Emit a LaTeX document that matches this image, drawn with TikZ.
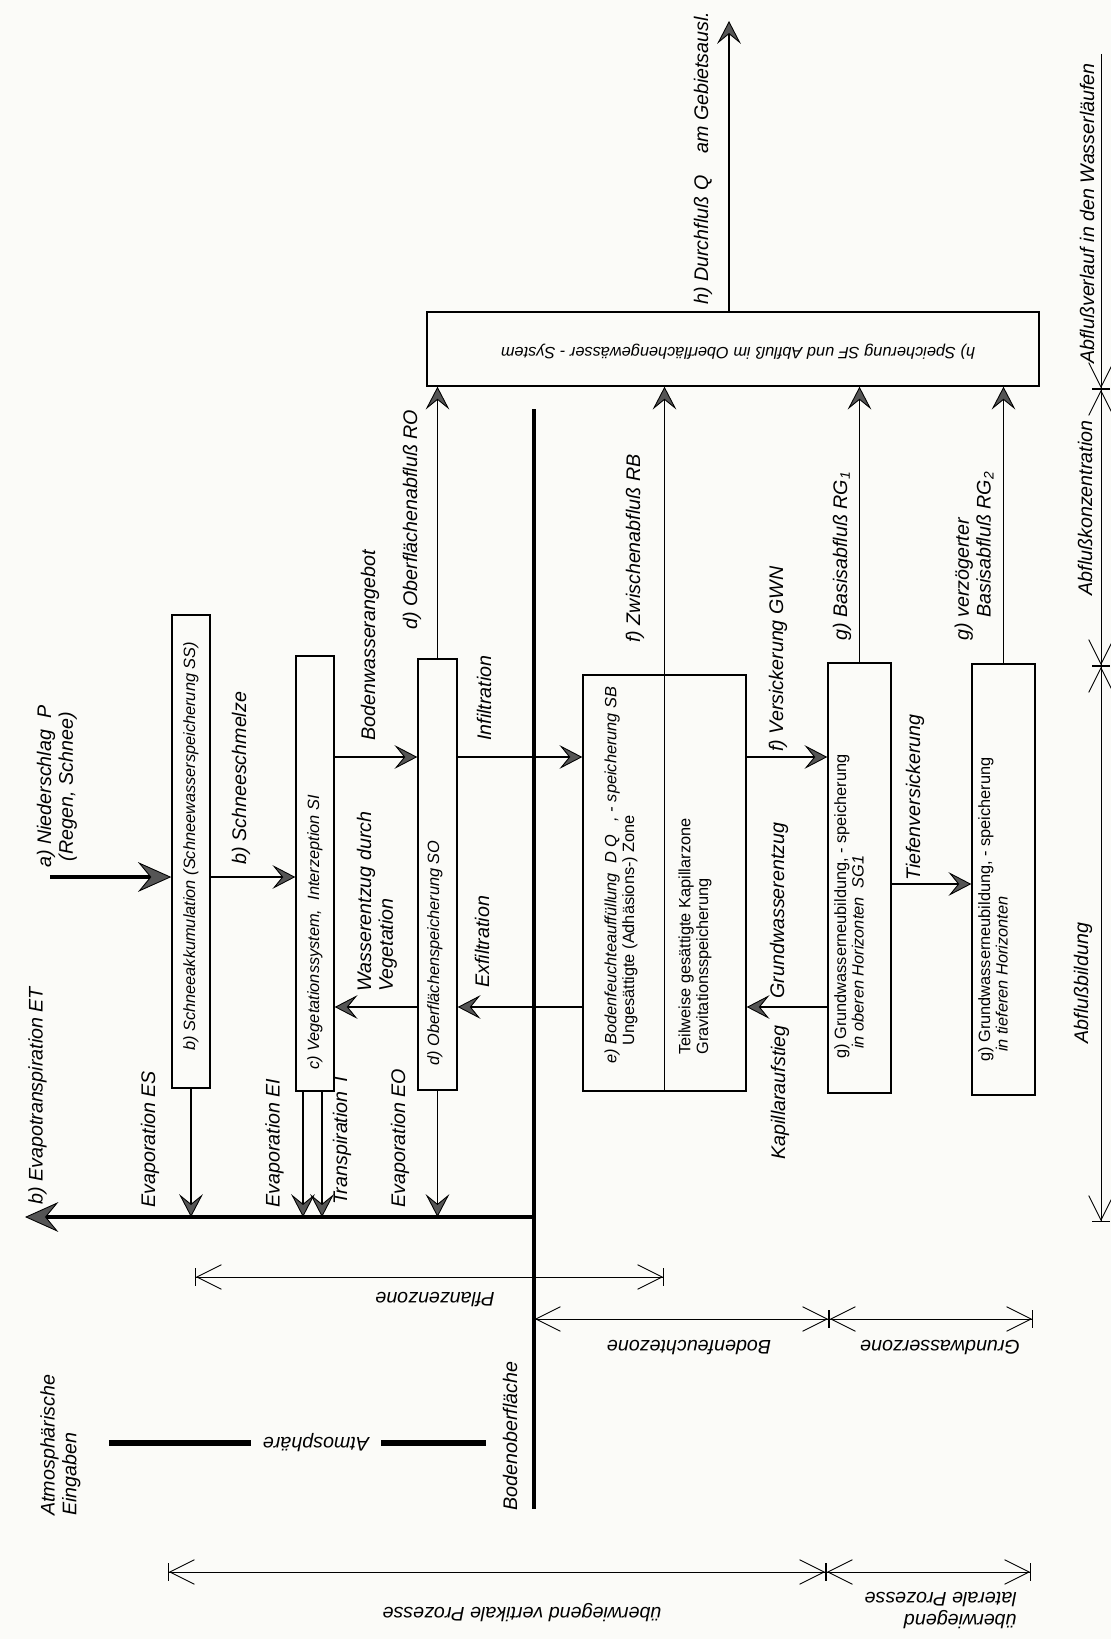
\documentclass[tikz,border=0pt]{standalone}
\usepackage{fontspec}
\setmainfont{Liberation Sans}
\usetikzlibrary{arrows.meta}
\definecolor{paper}{RGB}{251,251,248}
\definecolor{tipgray}{RGB}{85,85,85}
\newcommand\lblfont{\itshape\fontsize{11.2}{12.4}\selectfont}
\newcommand\boxfont{\itshape\fontsize{9.3}{10}\selectfont}
\def\pxu{0.02cm}
\tikzset{
  box/.style={draw, line width=0.8pt, inner sep=0pt},
  lbl/.style={inner sep=0pt, font=\lblfont},
  boxlbl/.style={inner sep=0pt, font=\boxfont},
  upword/.style={rotate=90, anchor=west},
  upsidedown/.style={rotate=180},
  flow/.style={line width=0.6pt, -{Stealth[length=13pt,width=13.5pt,inset=5.5pt,fill=tipgray,line width=0.5pt]}},
  bigflow/.style={line width=1.8pt, -{Stealth[length=19pt,width=17pt,inset=7pt,fill=tipgray,line width=0.5pt]}},
  ground/.style={line width=1.9pt},
  atmo/.style={line width=3pt},
  zone/.style={line width=0.5pt, {Bar[width=10pt]Straight Barb[length=14pt,width=14pt]}-{Straight Barb[length=14pt,width=14pt]Bar[width=10pt]}},
  zoneend/.style={line width=0.5pt, -{Straight Barb[length=14pt,width=14pt]Bar[width=10pt]}},
}
\begin{document}
\begin{tikzpicture}[x=\pxu, y=-\pxu]%
\useasboundingbox (0,0) rectangle (1111,1639);%
\fill[paper] (0,0) rectangle (1111,1639);%
%
\def\levP{877}%
\def\levIn{757}%
\def\levEx{1007}%
\def\levTief{884}%
\def\levET{1217}%
\coordinate (lvlP) at (0,\levP);%
\coordinate (lvlIn) at (0,\levIn);%
\coordinate (lvlEx) at (0,\levEx);%
\coordinate (lvlTief) at (0,\levTief);%
\coordinate (lvlET) at (0,\levET);%
%
% speicher
\node[box, minimum width=38*\pxu, minimum height=473*\pxu] (boxSchnee) at (191,851.5) {};%
\node[box, minimum width=38*\pxu, minimum height=435*\pxu] (boxVeg) at (315,873.5) {};%
\node[box, minimum width=39*\pxu, minimum height=431*\pxu] (boxOber) at (437.5,874.5) {};%
\node[box, minimum width=163*\pxu, minimum height=416*\pxu] (boxBoden) at (664.5,883) {};%
\node[box, minimum width=63*\pxu, minimum height=430*\pxu] (boxGwo) at (859.5,878) {};%
\node[box, minimum width=63*\pxu, minimum height=431*\pxu] (boxGwu) at (1003.5,879.5) {};%
\node[box, minimum width=612*\pxu, minimum height=74*\pxu] (boxSys) at (733,349) {};%
\draw[line width=0.6pt] (boxBoden.north) -- (boxBoden.south);%
%
\node[boxlbl, upword] (txtSchnee) at (191,1051) {b) Schneeakkumulation (Schneewasserspeicherung SS)};%
\node[boxlbl, upword] (txtVeg) at (315,1070) {c) Vegetationssystem,\ \ Interzeption SI};%
\node[boxlbl, upword] (txtOber) at (435,1066) {d) Oberflächenspeicherung SO};%
\node[boxlbl, upword, align=left] (txtBodenA) at (621,1064) {e) Bodenfeuchteauffüllung\ \ D Q\ \ \ , - speicherung SB\\\hspace*{1.1em}{\upshape Ungesättigte (Adhäsions-) Zone}};%
\node[boxlbl, upword, align=left, font=\boxfont\upshape] (txtBodenB) at (695,1055) {Teilweise gesättigte Kapillarzone\\Gravitationsspeicherung};%
\node[boxlbl, upword, align=left] (txtGwo) at (849,1059) {{\upshape g) Grundwasserneubildung, - speicherung}\\\hspace*{0.6em}in oberen Horizonten\ \ SG1};%
\node[boxlbl, upword, align=left] (txtGwu) at (993,1062) {{\upshape g) Grundwasserneubildung, - speicherung}\\\hspace*{0.6em}in tieferen Horizonten};%
\node[boxlbl, upsidedown] (txtSys) at (738,352) {h) Speicherung SF und Abfluß im Oberflächengewässer - System};%
%
% bodenoberflaeche
\coordinate (soilTop) at (534,409);%
\coordinate (soilBot) at (534,1509);%
\draw[ground] (soilTop) -- (soilBot);%
\node[lbl, upword] (lblSoil) at (510,1511) {Bodenoberfläche};%
%
% vertikale fluesse
\coordinate (precStart) at (50,\levP);%
\draw[bigflow] (precStart) -- (boxSchnee.west |- lvlP);%
\node[lbl, upword, align=center] (lblPrec) at (57,868) {a) Niederschlag\ \ P\\(Regen,\ Schnee)};%
\draw[flow] (boxSchnee.east |- lvlP) -- (boxVeg.west |- lvlP);%
\node[lbl, upword] (lblSchmelze) at (241,865) {b) Schneeschmelze};%
\draw[flow] (boxVeg.east |- lvlIn) -- (boxOber.west |- lvlIn);%
\node[lbl, upword] (lblAngebot) at (370,741) {Bodenwasserangebot};%
\draw[flow] (boxOber.east |- lvlIn) -- (boxBoden.west |- lvlIn);%
\node[lbl, upword] (lblInfil) at (484,741) {Infiltration};%
\draw[flow] (boxBoden.east |- lvlIn) -- (boxGwo.west |- lvlIn);%
\node[lbl, upword] (lblGwn) at (778,752) {f) Versickerung GWN};%
\draw[flow] (boxGwo.east |- lvlTief) -- (boxGwu.west |- lvlTief);%
\node[lbl, upword] (lblTief) at (915,881) {Tiefenversickerung};%
%
\draw[flow] (boxOber.west |- lvlEx) -- (boxVeg.east |- lvlEx);%
\node[lbl, upword, align=left] (lblEntzug) at (377,992) {Wasserentzug durch\\Vegetation};%
\draw[flow] (boxBoden.west |- lvlEx) -- (boxOber.east |- lvlEx);%
\node[lbl, upword] (lblExfil) at (482,988) {Exfiltration};%
\draw[flow] (boxGwo.west |- lvlEx) -- (boxBoden.east |- lvlEx);%
\node[lbl, upword] (lblGwe) at (779,999) {Grundwasserentzug};%
\node[lbl, upword] (lblKap) at (780,1160) {Kapillaraufstieg};%
%
% abfluss
\draw[flow] (boxOber.north) -- (boxSys.south -| boxOber.north);%
\node[lbl, upword] (lblRO) at (412,630) {d) Oberflächenabfluß RO};%
\draw[flow] (boxBoden.north) -- (boxSys.south -| boxBoden.north);%
\node[lbl, upword] (lblRB) at (635,643) {f) Zwischenabfluß RB};%
\draw[flow] (boxGwo.north) -- (boxSys.south -| boxGwo.north);%
\node[lbl, upword] (lblRGa) at (842,641) {g) Basisabfluß RG\textsubscript{1}};%
\draw[flow] (boxGwu.north) -- (boxSys.south -| boxGwu.north);%
\node[lbl, upword, align=left] (lblRGb) at (974,641) {g) verzögerter\\\hphantom{g) }Basisabfluß RG\textsubscript{2}};%
\coordinate (qTop) at (729,21);%
\draw[flow] (boxSys.north -| qTop) -- (qTop);%
\node[lbl, upword] (lblQ) at (703,305) {h) Durchfluß Q\ \ \ \ am Gebietsausl.};%
%
% verdunstung
\coordinate (etStart) at (534,\levET);%
\coordinate (etEnd) at (25,\levET);%
\draw[bigflow] (etStart) -- (etEnd);%
\node[lbl, upword] (lblET) at (37.5,1205) {b) Evapotranspiration ET};%
\coordinate (eiX) at (303,0);%
\coordinate (tX) at (322,0);%
\draw[flow] (boxSchnee.south) -- (boxSchnee.south |- lvlET);%
\node[lbl, upword] (lblES) at (150,1208) {Evaporation ES};%
\draw[flow] (boxVeg.south -| eiX) -- (eiX |- lvlET);%
\node[lbl, upword] (lblEI) at (274.5,1208) {Evaporation EI};%
\draw[flow] (boxVeg.south -| tX) -- (tX |- lvlET);%
\node[lbl, upword] (lblT) at (342,1205) {Transpiration T};%
\draw[flow] (boxOber.south) -- (boxOber.south |- lvlET);%
\node[lbl, upword] (lblEO) at (400,1208) {Evaporation EO};%
%
% zonen
\coordinate (pzL) at (195,1277);%
\coordinate (pzR) at (664,1277);%
\draw[zone] (pzL) -- (pzR);%
\node[lbl, upsidedown] (lblPflanze) at (435,1300) {Pflanzenzone};%
\coordinate (bfL) at (534,1319);%
\coordinate (bfR) at (829,1319);%
\coordinate (gwR) at (1033,1319);%
\draw[zone] (bfL) -- (bfR);%
\draw[zone] (bfR) -- (gwR);%
\node[lbl, upsidedown] (lblBodenZ) at (689,1348) {Bodenfeuchtezone};%
\node[lbl, upsidedown] (lblGwZ) at (940,1348) {Grundwasserzone};%
\coordinate (atmL) at (109,1443);%
\coordinate (atmR) at (486,1443);%
\node[lbl, upsidedown, inner xsep=12*\pxu] (lblAtm) at (316,1443) {Atmosphäre};%
\draw[atmo] (atmL) -- (lblAtm.east);%
\draw[atmo] (lblAtm.west) -- (atmR);%
\node[lbl, upword, align=left] (lblAtmE) at (60.5,1516) {Atmosphärische\\Eingaben};%
\coordinate (vpL) at (168,1572);%
\coordinate (vpR) at (826,1572);%
\coordinate (lpR) at (1031,1572);%
\draw[zone] (vpL) -- (vpR);%
\draw[zone] (vpR) -- (lpR);%
\node[lbl, upsidedown] (lblVert) at (522,1613) {überwiegend vertikale Prozesse};%
\node[lbl, upsidedown, anchor=west, align=left] (lblLat) at (1017,1610.5) {überwiegend\\laterale Prozesse};%
%
% abflussphasen
\coordinate (rcTop) at (1101,54);%
\coordinate (rcA) at (1101,389);%
\coordinate (rcB) at (1101,666);%
\coordinate (rcBot) at (1101,1222);%
\draw[zoneend] (rcTop) -- (rcA);%
\draw[zone] (rcA) -- (rcB);%
\draw[zone] (rcB) -- (rcBot);%
\node[lbl, upword] (lblVerlauf) at (1087,364) {Abflußverlauf in den Wasserläufen};%
\node[lbl, rotate=90] (lblKonz) at (1085,508) {Abflußkonzentration};%
\node[lbl, rotate=90] (lblBildung) at (1083,983) {Abflußbildung};%
\end{tikzpicture}
\end{document}
